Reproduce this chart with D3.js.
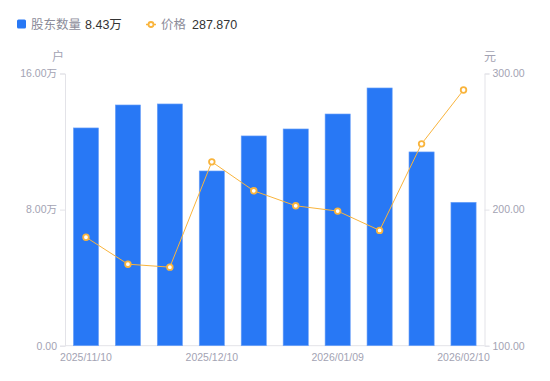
<!DOCTYPE html>
<html>
<head>
<meta charset="utf-8">
<script src="https://cdn.jsdelivr.net/npm/d3@7"></script>
<style>
  body { margin: 0; background: #fff; }
  svg text { font-family: "Liberation Sans", "Noto Sans CJK SC", sans-serif; }
</style>
</head>
<body>
<div id="chart"></div>
<script>
var dates = ["2025/11/10", "2025/11/20", "2025/11/30", "2025/12/10", "2025/12/20",
             "2025/12/31", "2026/01/09", "2026/01/20", "2026/01/31", "2026/02/10"];
var holders = [12.80, 14.15, 14.21, 10.27, 12.33, 12.74, 13.62, 15.15, 11.39, 8.43]; // 万户
var prices = [179.7, 159.9, 157.7, 235.1, 213.8, 202.8, 198.9, 184.7, 248.3, 287.87];
var shownDates = ["2025/11/10", "2025/12/10", "2026/01/09", "2026/02/10"];
var leftTicks = [0, 8, 16];
var rightTicks = [100, 200, 300];

var width = 550, height = 381;
var plotL = 65, plotR = 484.5, plotT = 73.5, plotB = 345.7;

var svg = d3.select("#chart").append("svg")
  .attr("width", width)
  .attr("height", height);

var x = d3.scaleBand().domain(dates).range([plotL, plotR]).paddingInner(0.4).paddingOuter(0.2);
var yL = d3.scaleLinear().domain([0, 16]).range([plotB, plotT]);
var yR = d3.scaleLinear().domain([100, 300]).range([plotB, plotT]);

var gray = "#a3a3b3";
var axisColor = "#e3e3e8";

// axes
var gl = svg.append("g").attr("transform", "translate(" + plotL + ",0)")
  .call(d3.axisLeft(yL).tickValues(leftTicks).tickSize(5).tickPadding(3)
    .tickFormat(function(d){ return d == 0 ? "0.00" : d.toFixed(2) + "万"; }));
var gr = svg.append("g").attr("transform", "translate(" + plotR + ",0)")
  .call(d3.axisRight(yR).tickValues(rightTicks).tickSize(5).tickPadding(3)
    .tickFormat(function(d){ return d.toFixed(2); }));
var gb = svg.append("g").attr("transform", "translate(0," + plotB + ")")
  .call(d3.axisBottom(x).tickValues(shownDates).tickSize(0).tickPadding(8));

[gl, gr, gb].forEach(function(g){
  g.select(".domain").attr("stroke", axisColor);
  g.selectAll(".tick line").attr("stroke", axisColor);
  g.selectAll(".tick text").attr("fill", gray).attr("font-size", "10.5px");
});
gb.select(".domain").attr("d", "M" + plotL + ",0H" + plotR);

svg.append("text").attr("x", 58).attr("y", 61).attr("text-anchor", "middle")
  .attr("fill", gray).attr("font-size", "12px").text("户");
svg.append("text").attr("x", 490).attr("y", 61).attr("text-anchor", "middle")
  .attr("fill", gray).attr("font-size", "12px").text("元");

// bars
svg.selectAll(".bar")
  .data(holders)
  .enter().append("rect")
  .attr("class", "bar")
  .attr("x", function(d, i){ return x(dates[i]); })
  .attr("y", function(d){ return yL(d); })
  .attr("width", x.bandwidth())
  .attr("height", function(d){ return plotB - yL(d); })
  .attr("fill", "#2878f5")
  .attr("stroke", "#6fa3f8")
  .attr("stroke-width", 0.6);

// price line
var line = d3.line()
  .x(function(d, i){ return x(dates[i]) + x.bandwidth() / 2; })
  .y(function(d){ return yR(d); });

svg.append("path")
  .datum(prices)
  .attr("d", line)
  .attr("fill", "none")
  .attr("stroke", "#f9b43c")
  .attr("stroke-width", 1);

svg.selectAll(".dot")
  .data(prices)
  .enter().append("circle")
  .attr("cx", function(d, i){ return x(dates[i]) + x.bandwidth() / 2; })
  .attr("cy", function(d){ return yR(d); })
  .attr("r", 2.8)
  .attr("fill", "#fff")
  .attr("stroke", "#f9b43c")
  .attr("stroke-width", 1.8);

// legend
var lg = svg.append("g");
lg.append("rect").attr("x", 17).attr("y", 19.5).attr("width", 9).attr("height", 9)
  .attr("rx", 1.5).attr("fill", "#2878f5");
lg.append("text").attr("x", 31).attr("y", 29).attr("font-size", "12.5px")
  .attr("fill", "#8c8c9a").text("股东数量");
lg.append("text").attr("x", 85).attr("y", 29).attr("font-size", "12.5px")
  .attr("fill", "#333").text("8.43万");
lg.append("line").attr("x1", 146).attr("x2", 156).attr("y1", 24.5).attr("y2", 24.5)
  .attr("stroke", "#f9b43c").attr("stroke-width", 1.5);
lg.append("circle").attr("cx", 151).attr("cy", 24.5).attr("r", 2.5)
  .attr("fill", "#fff").attr("stroke", "#f9b43c").attr("stroke-width", 1.8);
lg.append("text").attr("x", 161).attr("y", 29).attr("font-size", "12.5px")
  .attr("fill", "#8c8c9a").text("价格");
lg.append("text").attr("x", 192).attr("y", 29).attr("font-size", "12.5px")
  .attr("fill", "#333").text("287.870");
</script>
</body>
</html>
